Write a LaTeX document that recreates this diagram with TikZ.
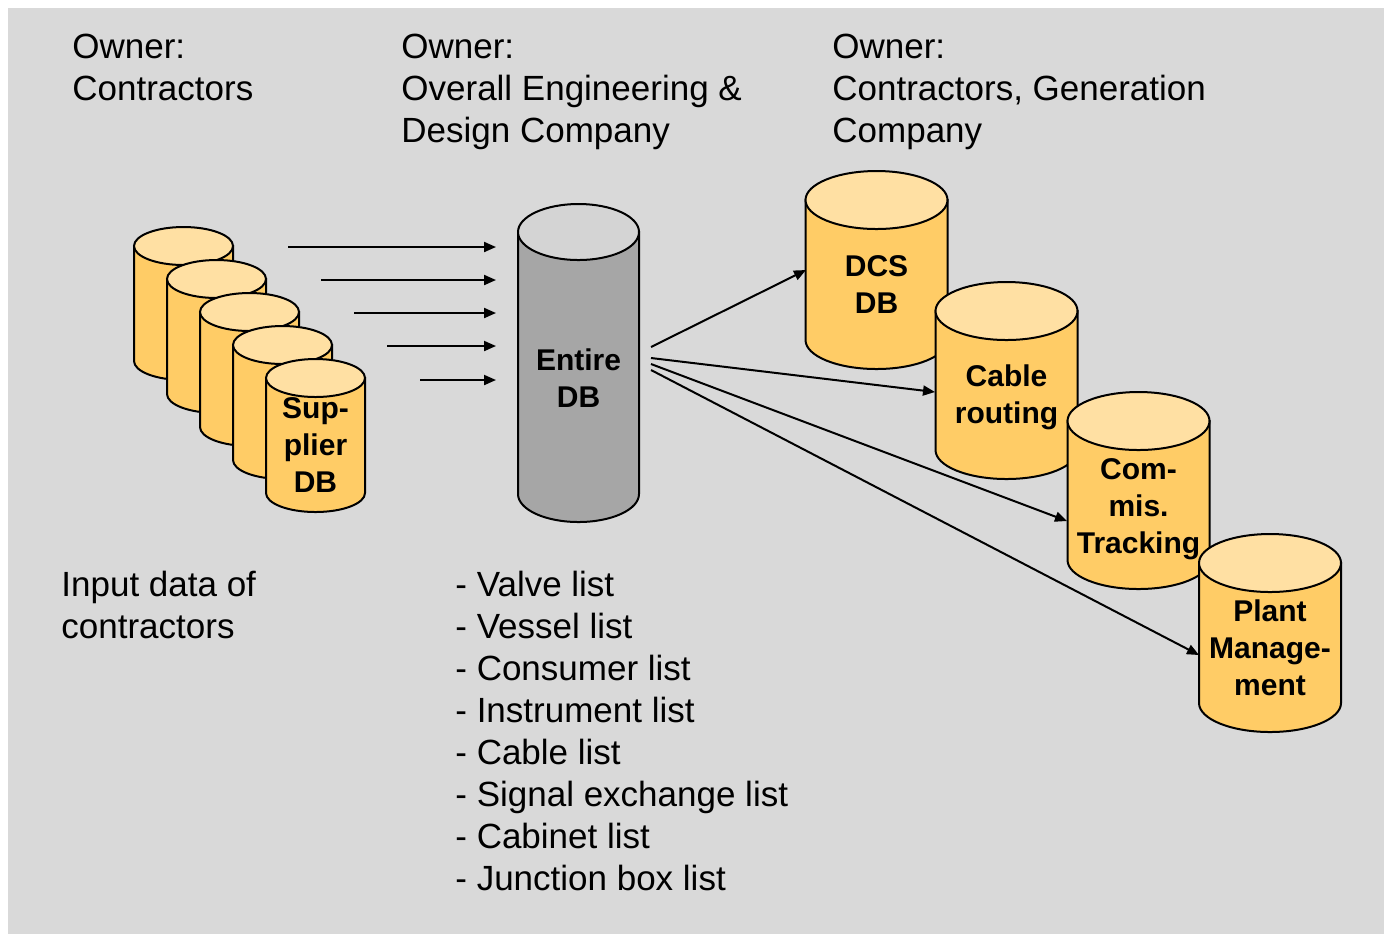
\documentclass[tikz,border=0pt]{standalone}
\usepackage{fontspec}
\setmainfont{Liberation Sans}
\usepackage{xcolor}
\usetikzlibrary{arrows.meta}

\definecolor{slidegray}{RGB}{217,217,217}
\definecolor{canyellow}{RGB}{255,204,102}
\definecolor{canlight}{RGB}{255,224,163}
\definecolor{dbgray}{RGB}{166,166,166}
\definecolor{dblight}{RGB}{212,212,212}

\tikzset{
  canbody/.style={draw=black, line width=1pt, fill=canyellow},
  cantop/.style={draw=black, line width=1pt, fill=canlight},
  graybody/.style={draw=black, line width=1pt, fill=dbgray},
  graytop/.style={draw=black, line width=1pt, fill=dblight},
  dblabel/.style={font=\fontsize{15}{18.5}\selectfont\bfseries, align=center, inner sep=0pt},
  heading/.style={font=\fontsize{17.5}{21}\selectfont, align=left, anchor=north west, inner sep=0pt},
  flow/.style={line width=1pt, -{Triangle[length=6pt,width=5pt]}}
}

\begin{document}
\begin{tikzpicture}[x=0.5pt,y=0.5pt,yscale=-1]
\useasboundingbox (0,0) rectangle (1384,934);
%Shape: Rectangle
\fill [slidegray] (8,8) rectangle (1384,934);

%Shape: Can
\draw [canbody] (134,246) -- (134,361) arc [start angle=180, end angle=0, x radius=49.5, y radius=19] -- (233,246) -- cycle ;
\draw [cantop] (183.5,246) ellipse [x radius=49.5, y radius=19] ;
%Shape: Can
\draw [canbody] (167,279) -- (167,394) arc [start angle=180, end angle=0, x radius=49.5, y radius=19] -- (266,279) -- cycle ;
\draw [cantop] (216.5,279) ellipse [x radius=49.5, y radius=19] ;
%Shape: Can
\draw [canbody] (200,312) -- (200,427) arc [start angle=180, end angle=0, x radius=49.5, y radius=19] -- (299,312) -- cycle ;
\draw [cantop] (249.5,312) ellipse [x radius=49.5, y radius=19] ;
%Shape: Can
\draw [canbody] (233,345) -- (233,460) arc [start angle=180, end angle=0, x radius=49.5, y radius=19] -- (332,345) -- cycle ;
\draw [cantop] (282.5,345) ellipse [x radius=49.5, y radius=19] ;
%Shape: Can
\draw [canbody] (266,378) -- (266,493) arc [start angle=180, end angle=0, x radius=49.5, y radius=19] -- (365,378) -- cycle ;
\draw [cantop] (315.5,378) ellipse [x radius=49.5, y radius=19] ;
% Text Node
\node [dblabel] (supplier) at (315.5,445) {Sup-\\plier\\DB};

%Shape: Can
\draw [graybody] (518,232) -- (518,494) arc [start angle=180, end angle=0, x radius=60.5, y radius=28] -- (639,232) -- cycle ;
\draw [graytop] (578.5,232) ellipse [x radius=60.5, y radius=28] ;
% Text Node
\node [dblabel] (entire) at (578.5,378) {Entire\\DB};

%Shape: Can
\draw [canbody] (805.5,200) -- (805.5,340) arc [start angle=180, end angle=0, x radius=71, y radius=29] -- (947.5,200) -- cycle ;
\draw [cantop] (876.5,200) ellipse [x radius=71, y radius=29] ;
% Text Node
\node [dblabel] (dcs) at (876.5,285) {DCS\\DB};
%Shape: Can
\draw [canbody] (935.5,311) -- (935.5,450) arc [start angle=180, end angle=0, x radius=71, y radius=29] -- (1077.5,311) -- cycle ;
\draw [cantop] (1006.5,311) ellipse [x radius=71, y radius=29] ;
% Text Node
\node [dblabel] (cable) at (1006.5,397) {Cable\\routing};
%Shape: Can
\draw [canbody] (1067.5,421) -- (1067.5,560) arc [start angle=180, end angle=0, x radius=71, y radius=29] -- (1209.5,421) -- cycle ;
\draw [cantop] (1138.5,421) ellipse [x radius=71, y radius=29] ;
% Text Node
\node [dblabel] (commis) at (1138.5,509) {Com-\\mis.\\Tracking};
%Shape: Can
\draw [canbody] (1199,563) -- (1199,703) arc [start angle=180, end angle=0, x radius=71, y radius=29] -- (1341,563) -- cycle ;
\draw [cantop] (1270,563) ellipse [x radius=71, y radius=29] ;
% Text Node
\node [dblabel] (plant) at (1270,648) {Plant\\Manage-\\ment};

% Arrow ends
\coordinate (in1) at (288,247);  \coordinate (to1) at (496,247);
\coordinate (in2) at (321,280);  \coordinate (to2) at (496,280);
\coordinate (in3) at (354,313);  \coordinate (to3) at (496,313);
\coordinate (in4) at (387,346);  \coordinate (to4) at (496,346);
\coordinate (in5) at (420,380);  \coordinate (to5) at (496,380);
\coordinate (out1) at (651,347); \coordinate (dcsin) at (806,270);
\coordinate (out2) at (651,358); \coordinate (cablein) at (935,392);
\coordinate (out3) at (651,364); \coordinate (commisin) at (1067,521);
\coordinate (out4) at (651,370); \coordinate (plantin) at (1199,655);

%Straight Lines
\draw [flow] (in1) -- (to1) ;
\draw [flow] (in2) -- (to2) ;
\draw [flow] (in3) -- (to3) ;
\draw [flow] (in4) -- (to4) ;
\draw [flow] (in5) -- (to5) ;
%Straight Lines
\draw [flow] (out1) -- (dcsin) ;
\draw [flow] (out2) -- (cablein) ;
\draw [flow] (out3) -- (commisin) ;
\draw [flow] (out4) -- (plantin) ;

% Text Node
\node [heading] (ownleft) at (72,34) {Owner:\\Contractors};
% Text Node
\node [heading] (ownmid) at (401,34) {Owner:\\Overall Engineering \&\\Design Company};
% Text Node
\node [heading] (ownright) at (832,34) {Owner:\\Contractors, Generation\\Company};
% Text Node
\node [heading] (input) at (61,571) {Input data of\\contractors};
% Text Node
\node [heading] (lists) at (455,571) {- Valve list\\- Vessel list\\- Consumer list\\- Instrument list\\- Cable list\\- Signal exchange list\\- Cabinet list\\- Junction box list};

\end{tikzpicture}
\end{document}
